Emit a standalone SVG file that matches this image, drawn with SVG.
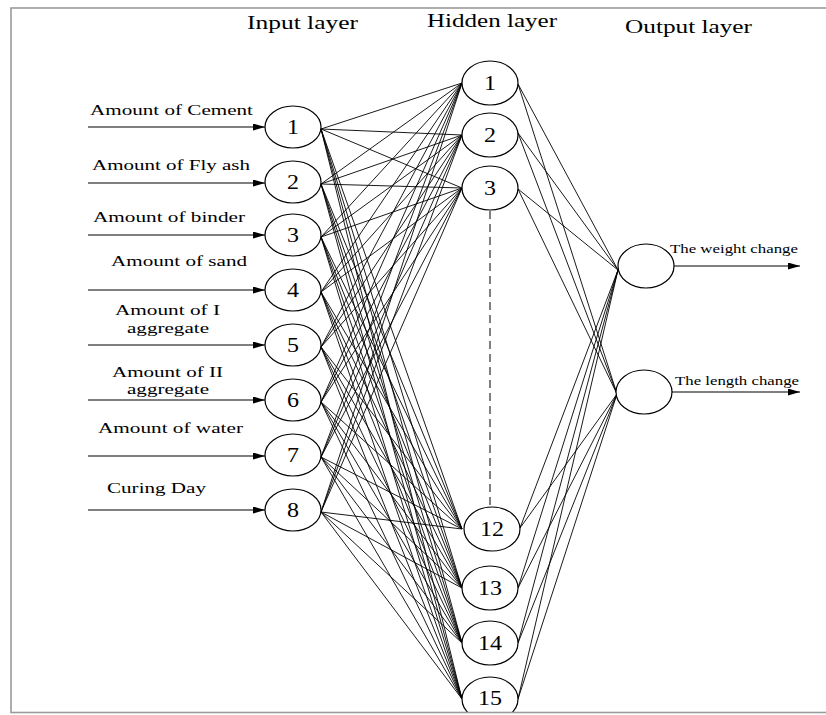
<svg xmlns="http://www.w3.org/2000/svg" width="826" height="715" viewBox="0 0 826 715" font-family="'Liberation Serif', 'Times New Roman', serif">
  <style>
    text { font-family: "Liberation Serif", "Times New Roman", serif; fill: #000; }
    .title { font-size: 19px; }
    .lbl { font-size: 15px; }
    .olbl { font-size: 13px; }
    .num { font-size: 20px; text-anchor: middle; }
    .node { fill: #fff; stroke: #000; stroke-width: 1.2; }
    .edge { fill: none; stroke: #000; stroke-width: 0.9; }
    .arrow { fill: none; stroke: #000; stroke-width: 1.1; marker-end: url(#head); }
    .frame { fill: none; stroke: #9a9a9a; stroke-width: 1.6; }
  </style>
  <defs>
    <marker id="head" markerUnits="userSpaceOnUse" markerWidth="13" markerHeight="8" refX="12" refY="3.5" orient="auto">
      <path d="M0,0 L12,3.5 L0,7 z" fill="#000"/>
    </marker>
  </defs>
  <rect x="0" y="0" width="826" height="715" fill="#fff"/>

  <!-- layer titles -->
  <text class="title" x="247" y="29" textLength="111" lengthAdjust="spacingAndGlyphs">Input layer</text>
  <text class="title" x="427" y="27" textLength="130" lengthAdjust="spacingAndGlyphs">Hidden layer</text>
  <text class="title" x="625" y="33" textLength="127" lengthAdjust="spacingAndGlyphs">Output layer</text>

  <!-- connectors -->
  <g id="connectors">
    <g id="input-arrows">
      <line class="arrow" x1="88" y1="127" x2="265" y2="127"/>
      <line class="arrow" x1="88" y1="183" x2="265" y2="183"/>
      <line class="arrow" x1="88" y1="235" x2="265" y2="235"/>
      <line class="arrow" x1="88" y1="290" x2="265" y2="290"/>
      <line class="arrow" x1="88" y1="345" x2="265" y2="345"/>
      <line class="arrow" x1="88" y1="400" x2="265" y2="400"/>
      <line class="arrow" x1="88" y1="456" x2="265" y2="456"/>
      <line class="arrow" x1="88" y1="510" x2="265" y2="510"/>
    </g>
    <g id="input-hidden">
      <path class="edge" d="M321 129L462 83M321 129L462 135M321 129L462 188M321 129L462 529M321 129L462 588M321 129L462 643M321 129L462 699"/>
      <path class="edge" d="M321 184L462 83M321 184L462 135M321 184L462 188M321 184L462 529M321 184L462 588M321 184L462 643M321 184L462 699"/>
      <path class="edge" d="M321 237L462 83M321 237L462 135M321 237L462 188M321 237L462 529M321 237L462 588M321 237L462 643M321 237L462 699"/>
      <path class="edge" d="M321 292L462 83M321 292L462 135M321 292L462 188M321 292L462 529M321 292L462 588M321 292L462 643M321 292L462 699"/>
      <path class="edge" d="M321 347L462 83M321 347L462 135M321 347L462 188M321 347L462 529M321 347L462 588M321 347L462 643M321 347L462 699"/>
      <path class="edge" d="M321 402L462 83M321 402L462 135M321 402L462 188M321 402L462 529M321 402L462 588M321 402L462 643M321 402L462 699"/>
      <path class="edge" d="M321 457L462 83M321 457L462 135M321 457L462 188M321 457L462 529M321 457L462 588M321 457L462 643M321 457L462 699"/>
      <path class="edge" d="M321 512L462 83M321 512L462 135M321 512L462 188M321 512L462 529M321 512L462 588M321 512L462 643M321 512L462 699"/>
    </g>
    <g id="hidden-output">
      <path class="edge" d="M518 84L618 270M518 84L617 394"/>
      <path class="edge" d="M518 133L618 270M518 133L617 394"/>
      <path class="edge" d="M518 189L618 270M518 189L617 394"/>
      <path class="edge" d="M520 528L618 270M520 528L617 394"/>
      <path class="edge" d="M518 588L618 270M518 588L617 394"/>
      <path class="edge" d="M518 643L618 270M518 643L617 394"/>
      <path class="edge" d="M518 699L618 270M518 699L617 394"/>
    </g>
    <line x1="490" y1="211" x2="490" y2="507" stroke="#000" stroke-width="1" stroke-dasharray="8,5"/>
    <g id="output-arrows">
      <line class="arrow" x1="674" y1="266" x2="800" y2="266"/>
      <line class="arrow" x1="672" y1="392" x2="800" y2="392"/>
    </g>
  </g>

  <!-- input nodes -->
  <g id="in1"><ellipse class="node" cx="293" cy="127" rx="28" ry="21"/><text class="num" x="293" y="134" textLength="12" lengthAdjust="spacingAndGlyphs">1</text>
    <text class="lbl" x="90" y="115" textLength="163" lengthAdjust="spacingAndGlyphs">Amount of Cement</text></g>
  <g id="in2"><ellipse class="node" cx="293" cy="182" rx="28" ry="21"/><text class="num" x="293" y="189" textLength="12" lengthAdjust="spacingAndGlyphs">2</text>
    <text class="lbl" x="92" y="170" textLength="158" lengthAdjust="spacingAndGlyphs">Amount of Fly ash</text></g>
  <g id="in3"><ellipse class="node" cx="293" cy="235" rx="28" ry="21"/><text class="num" x="293" y="242" textLength="12" lengthAdjust="spacingAndGlyphs">3</text>
    <text class="lbl" x="93" y="222" textLength="152" lengthAdjust="spacingAndGlyphs">Amount of binder</text></g>
  <g id="in4"><ellipse class="node" cx="293" cy="290" rx="28" ry="21"/><text class="num" x="293" y="297" textLength="12" lengthAdjust="spacingAndGlyphs">4</text>
    <text class="lbl" x="111" y="266" textLength="136" lengthAdjust="spacingAndGlyphs">Amount of sand</text></g>
  <g id="in5"><ellipse class="node" cx="293" cy="345" rx="28" ry="21"/><text class="num" x="293" y="352" textLength="12" lengthAdjust="spacingAndGlyphs">5</text>
    <text class="lbl" x="115" y="315" textLength="105" lengthAdjust="spacingAndGlyphs">Amount of I</text>
    <text class="lbl" x="127" y="333" textLength="82" lengthAdjust="spacingAndGlyphs">aggregate</text></g>
  <g id="in6"><ellipse class="node" cx="293" cy="400" rx="28" ry="21"/><text class="num" x="293" y="407" textLength="12" lengthAdjust="spacingAndGlyphs">6</text>
    <text class="lbl" x="112" y="377" textLength="111" lengthAdjust="spacingAndGlyphs">Amount of II</text>
    <text class="lbl" x="127" y="394" textLength="82" lengthAdjust="spacingAndGlyphs">aggregate</text></g>
  <g id="in7"><ellipse class="node" cx="293" cy="455" rx="28" ry="21"/><text class="num" x="293" y="462" textLength="12" lengthAdjust="spacingAndGlyphs">7</text>
    <text class="lbl" x="98" y="433" textLength="145" lengthAdjust="spacingAndGlyphs">Amount of water</text></g>
  <g id="in8"><ellipse class="node" cx="293" cy="510" rx="28" ry="21"/><text class="num" x="293" y="517" textLength="12" lengthAdjust="spacingAndGlyphs">8</text>
    <text class="lbl" x="107" y="493" textLength="99" lengthAdjust="spacingAndGlyphs">Curing Day</text></g>

  <!-- hidden nodes -->
  <g id="h1"><ellipse class="node" cx="490" cy="83" rx="28" ry="22"/><text class="num" x="490" y="90" textLength="12" lengthAdjust="spacingAndGlyphs">1</text></g>
  <g id="h2"><ellipse class="node" cx="490" cy="135" rx="28" ry="22"/><text class="num" x="490" y="142" textLength="12" lengthAdjust="spacingAndGlyphs">2</text></g>
  <g id="h3"><ellipse class="node" cx="490" cy="188" rx="28" ry="22"/><text class="num" x="490" y="195" textLength="12" lengthAdjust="spacingAndGlyphs">3</text></g>
  <g id="h12"><ellipse class="node" cx="492" cy="529" rx="28" ry="22"/><text class="num" x="492" y="536" textLength="24" lengthAdjust="spacingAndGlyphs">12</text></g>
  <g id="h13"><ellipse class="node" cx="490" cy="588" rx="28" ry="22"/><text class="num" x="490" y="595" textLength="24" lengthAdjust="spacingAndGlyphs">13</text></g>
  <g id="h14"><ellipse class="node" cx="490" cy="643" rx="28" ry="22"/><text class="num" x="490" y="650" textLength="24" lengthAdjust="spacingAndGlyphs">14</text></g>
  <g id="h15"><ellipse class="node" cx="490" cy="699" rx="28" ry="22"/><text class="num" x="490" y="705" textLength="24" lengthAdjust="spacingAndGlyphs">15</text></g>

  <!-- output nodes -->
  <g id="out-weight"><ellipse class="node" cx="646" cy="266" rx="28" ry="22"/>
    <text class="olbl" x="670" y="253" textLength="128" lengthAdjust="spacingAndGlyphs">The weight change</text></g>
  <g id="out-length"><ellipse class="node" cx="644" cy="392" rx="28" ry="22"/>
    <text class="olbl" x="675" y="385" textLength="124" lengthAdjust="spacingAndGlyphs">The length change</text></g>

  <!-- frame: everything below the bottom edge is masked off -->
  <rect x="0" y="713" width="826" height="2" fill="#fff"/>
  <rect class="frame" x="11" y="8" width="840" height="704.5"/>
</svg>
